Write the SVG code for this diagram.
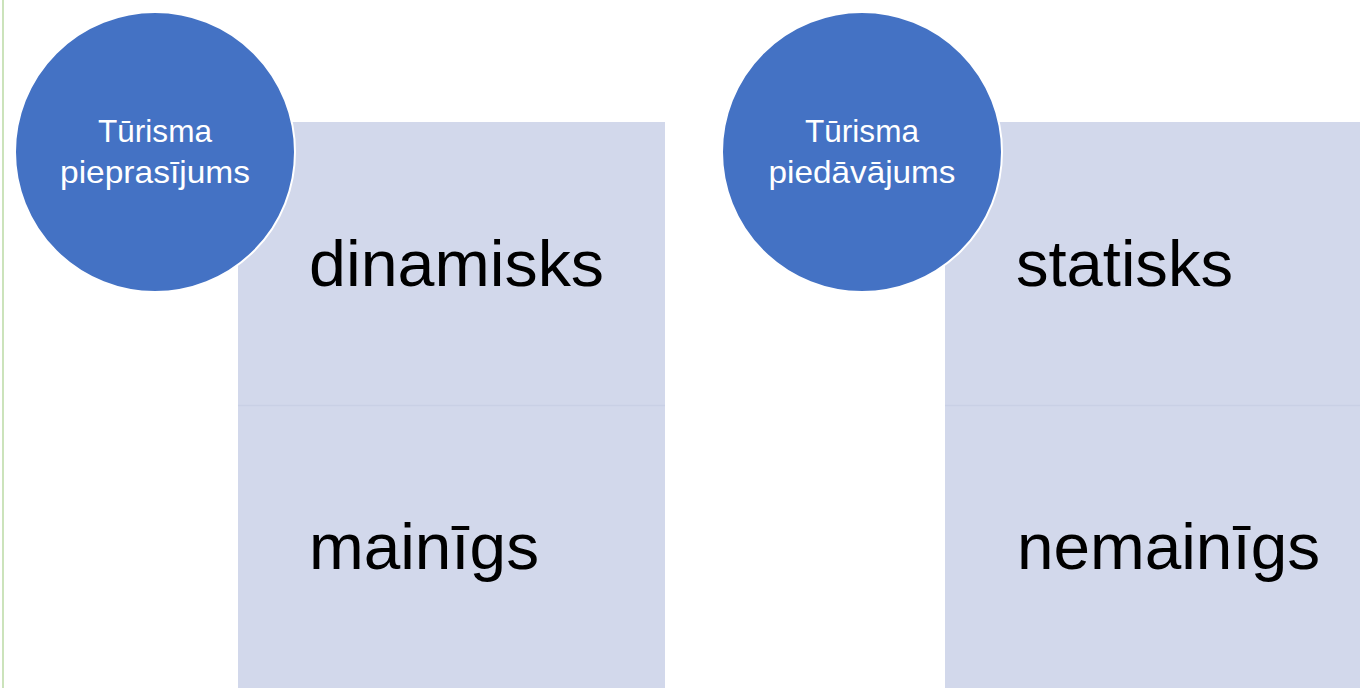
<svg xmlns="http://www.w3.org/2000/svg" width="1360" height="688" viewBox="0 0 1360 688">
<style>
.box{fill:#D2D8EB}
.div{stroke:#C9D0E5;stroke-width:1.5}
.circ{fill:#4472C4;stroke:#FFFFFF;stroke-width:2}
.ct{font-family:"Liberation Sans",Arial,sans-serif;font-size:32px;fill:#FFFFFF;text-anchor:middle}
.bt{font-family:"Liberation Sans",Arial,sans-serif;font-size:65px;fill:#000000}
</style>
<rect x="0" y="0" width="1360" height="688" fill="#FFFFFF"/>
<line x1="3" y1="0" x2="3" y2="688" stroke="#A9D18E" stroke-width="1.2"/>
<g id="left-box">
<rect class="box" x="238" y="122" width="427" height="566"/>
<line class="div" x1="238" y1="405.5" x2="665" y2="405.5"/>
<text class="bt" x="309" y="286" textLength="295" lengthAdjust="spacingAndGlyphs">dinamisks</text>
<text class="bt" x="309" y="569" textLength="230" lengthAdjust="spacingAndGlyphs">mainīgs</text>
</g>
<g id="right-box">
<rect class="box" x="945" y="122" width="415" height="566"/>
<line class="div" x1="945" y1="405.5" x2="1360" y2="405.5"/>
<text class="bt" x="1016" y="286" textLength="217" lengthAdjust="spacingAndGlyphs">statisks</text>
<text class="bt" x="1017" y="569" textLength="303" lengthAdjust="spacingAndGlyphs">nemainīgs</text>
</g>
<g id="left-circle">
<circle class="circ" cx="155" cy="152" r="140"/>
<text class="ct" x="155" y="142" textLength="114" lengthAdjust="spacingAndGlyphs">Tūrisma</text>
<text class="ct" x="155" y="183" textLength="190" lengthAdjust="spacingAndGlyphs">pieprasījums</text>
</g>
<g id="right-circle">
<circle class="circ" cx="862" cy="152" r="140"/>
<text class="ct" x="862" y="142" textLength="114" lengthAdjust="spacingAndGlyphs">Tūrisma</text>
<text class="ct" x="862" y="183" textLength="187" lengthAdjust="spacingAndGlyphs">piedāvājums</text>
</g>
<g id="connectors"></g>
</svg>
